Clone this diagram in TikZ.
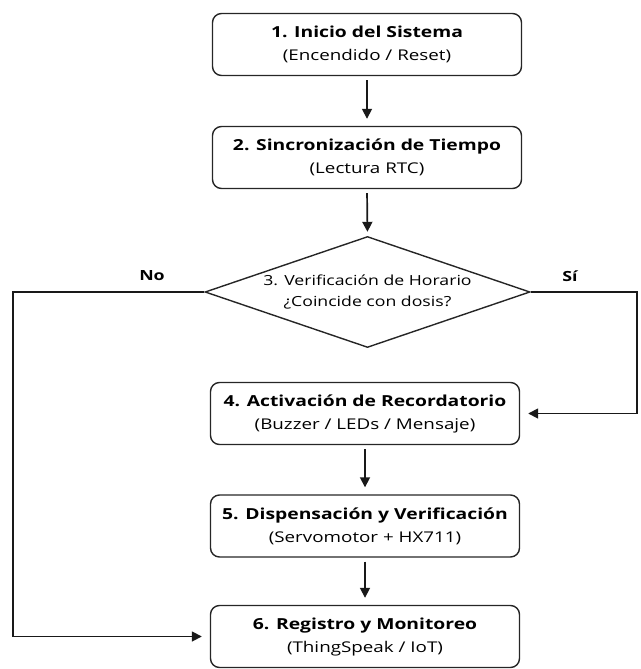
\documentclass[tikz,border=0pt]{standalone}
\usepackage{fontspec}
\setmainfont{Open Sans}[FakeStretch=1.27]
\usetikzlibrary{shapes.geometric,arrows.meta}
\begin{document}
\begin{tikzpicture}[x=1pt,y=1pt,
  stepbox/.style={draw=black!85, line width=1.4pt, rounded corners=9pt, minimum width=309pt, minimum height=62pt, align=center, inner sep=0pt, font=\fontsize{14.8}{23}\selectfont},
  decision/.style={draw=black!85, line width=1.4pt, shape=diamond, aspect=2.93, minimum width=325pt, minimum height=111pt, align=center, inner sep=0pt, font=\fontsize{13.9}{21}\selectfont},
  flow/.style={draw=black!90, line width=1.7pt, -{Triangle[length=10pt,width=10pt]}},
  lab/.style={font=\fontsize{14}{16}\selectfont\bfseries}
]
\useasboundingbox (0,0) rectangle (640,-669);
\newcommand{\boxtext}[2]{{\fontsize{15.2}{23}\selectfont\bfseries #1}\\{#2}}
\node[stepbox] (b1) at (367,-44.5) {\boxtext{1. Inicio del Sistema}{(Encendido / Reset)}};
\node[stepbox] (b2) at (367,-157.5) {\boxtext{2. Sincronización de Tiempo}{(Lectura RTC)}};
\node[decision] (d3) at (367.5,-292) {3. Verificación de Horario\\¿Coincide con dosis?};
\node[stepbox] (b4) at (365,-413.5) {\boxtext{4. Activación de Recordatorio}{(Buzzer / LEDs / Mensaje)}};
\node[stepbox] (b5) at (365,-526) {\boxtext{5. Dispensación y Verificación}{(Servomotor + HX711)}};
\node[stepbox] (b6) at (365,-636.5) {\boxtext{6. Registro y Monitoreo}{(ThingSpeak / IoT)}};
\coordinate (nl) at (13,-292);
\coordinate (nr) at (637,-292);
\node[lab] (no) at (152,-276) {No};
\node[lab] (si) at (570,-276) {Sí};
\draw[flow, shorten <=4pt, shorten >=7pt] (b1.south) -- (b2.north);
\draw[flow, shorten <=4pt, shorten >=4pt] (b2.south) -- (d3.north);
\draw[flow, shorten <=4pt, shorten >=7pt] (b4.south) -- (b5.north);
\draw[flow, shorten <=4pt, shorten >=7pt] (b5.south) -- (b6.north);
\draw[flow, shorten >=8pt] (d3.east) -- (nr) |- (b4.east);
\draw[flow, shorten >=8pt] (d3.west) -- (nl) |- (b6.west);
\end{tikzpicture}
\end{document}
